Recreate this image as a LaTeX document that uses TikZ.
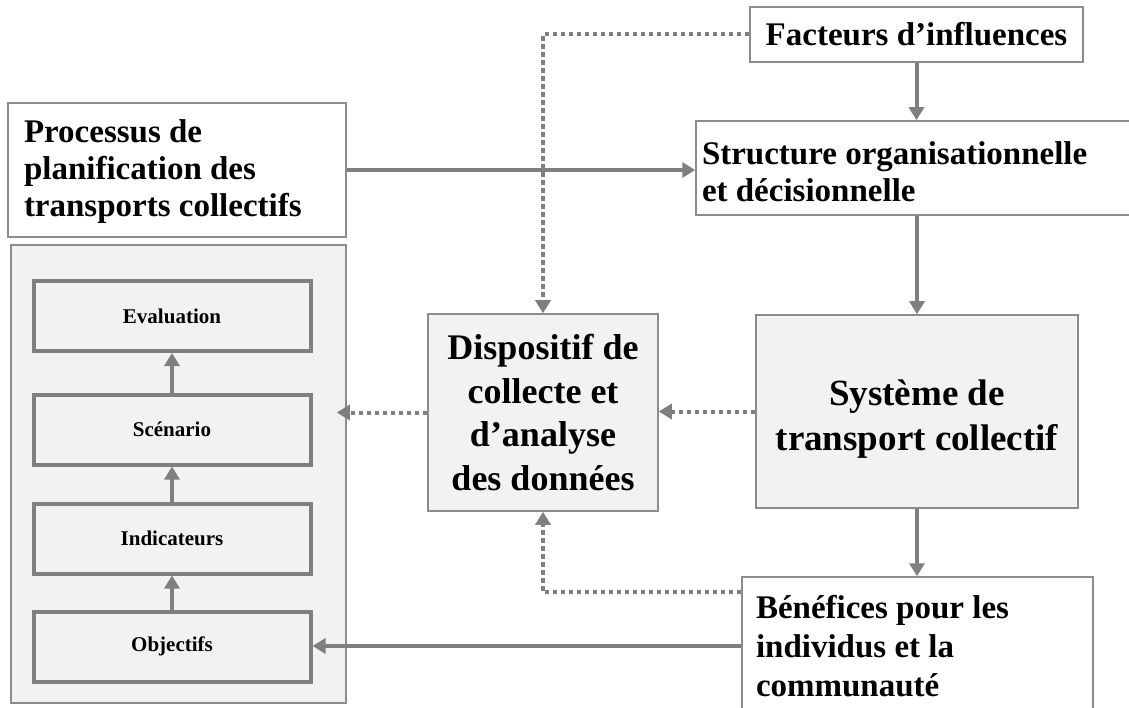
\documentclass[tikz,border=0pt]{standalone}
\usepackage{fontspec}
\setmainfont{Liberation Serif}
\usetikzlibrary{arrows.meta,calc}
\definecolor{ln}{HTML}{7F7F7F}
\definecolor{bd}{HTML}{8C8C8C}
\definecolor{fl}{HTML}{F2F2F2}
\newcommand\FBig{\fontsize{33}{37}\selectfont\bfseries}
\newcommand\FBen{\fontsize{33}{39}\selectfont\bfseries}
\newcommand\FDisp{\fontsize{36}{43.5}\selectfont\bfseries}
\newcommand\FSys{\fontsize{37}{45}\selectfont\bfseries}
\newcommand\FIn{\fontsize{21}{25}\selectfont\bfseries}
\begin{document}
\begin{tikzpicture}[x=1pt,y=-1pt,
  wbox/.style={draw=bd, line width=1.5pt, fill=white, inner sep=0pt},
  gbox/.style={draw=bd, line width=1.5pt, fill=fl, inner sep=0pt},
  ibox/.style={draw=ln, line width=4pt, fill=fl, inner sep=0pt, minimum width=277pt, minimum height=70pt, font=\FIn},
  sarrow/.style={draw=ln, line width=4pt, -{Triangle[width=15pt,length=13pt]}},
  darrow/.style={draw=ln, line width=4pt, dash pattern=on 4.5pt off 3.5pt, -{Triangle[width=15pt,length=13pt]}}]
\useasboundingbox (0,0) rectangle (1129,708);
\clip (0,0) rectangle (1129,708);
% top right boxes
\node[wbox, minimum width=333pt, minimum height=55pt, font=\FBig] (fact) at (916.5,34.5) {Facteurs d’influences};
\node[wbox, minimum width=444pt, minimum height=94pt, text width=432pt, align=flush left, font=\FBig] (struct) at (918,168) {\rule{0pt}{30pt}Structure organisationnelle\\et décisionnelle};
\node[wbox, minimum width=338pt, minimum height=134pt, text width=306pt, align=flush left, font=\FBig] (proc) at (177,170) {\rule{0pt}{27pt}Processus de\\planification des\\transports collectifs};
% middle boxes
\node[gbox, minimum width=230pt, minimum height=197pt, align=center, font=\FDisp] (disp) at (543,412.5) {Dispositif de\\collecte et\\d’analyse\\des données};
\node[gbox, minimum width=322pt, minimum height=193pt, align=center, font=\FSys] (sys) at (917,411.5) {\rule{0pt}{40pt}Système de\\transport collectif};
\node[wbox, minimum width=351pt, minimum height=138pt, text width=323pt, align=flush left, font=\FBen] (ben) at (917.5,646) {Bénéfices pour les\\individus et la\\communauté};
% left panel
\node[gbox, minimum width=335pt, minimum height=458pt] (panel) at (178.5,474) {};
\node[ibox] (eval) at (172,316) {Evaluation};
\node[ibox] (scen) at (172,429.5) {Scénario};
\node[ibox] (ind) at (172,538.5) {Indicateurs};
\node[ibox] (obj) at (172,646.5) {Objectifs};
% connectors
\draw[sarrow] (obj.north) -- (ind.south);
\draw[sarrow] (ind.north) -- (scen.south);
\draw[sarrow] (scen.north) -- (eval.south);
\draw[sarrow] (proc.east) -- (proc.east -| struct.west);
\draw[sarrow] (fact.south) -- (fact.south |- struct.north);
\draw[sarrow] (sys.north |- struct.south) -- (sys.north);
\draw[sarrow] (sys.south) -- (sys.south |- ben.north);
\draw[sarrow] (ben.west) -- (ben.west -| obj.east);
\draw[darrow] (sys.west) -- (sys.west -| disp.east);
\draw[darrow, shorten >=-10pt] (disp.west) -- (disp.west -| panel.east);
\draw[darrow] (fact.west) -| (disp.north);
\draw[darrow] ($(ben.north west)+(0,16)$) -| (disp.south);
\end{tikzpicture}
\end{document}
